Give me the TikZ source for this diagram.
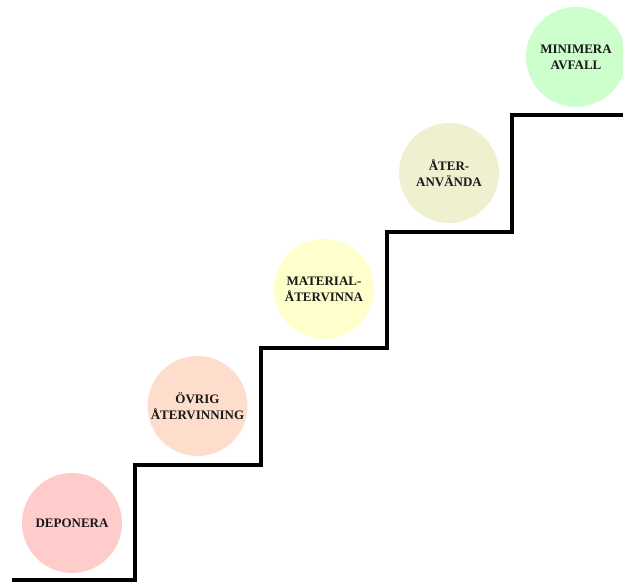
\documentclass[tikz,border=0pt]{standalone}
\usepackage{fontspec}
\setmainfont{Liberation Serif}
\definecolor{cDep}{HTML}{FFCCCC}
\definecolor{cOvr}{HTML}{FFDDCC}
\definecolor{cMat}{HTML}{FFFFCC}
\definecolor{cAter}{HTML}{EEF0D0}
\definecolor{cMin}{HTML}{CCFFCC}
\begin{document}
\begin{tikzpicture}[x=1pt,y=-1pt,
  stepcircle/.style={circle, minimum size=100pt, inner sep=0pt, draw=none,
    align=center, font=\fontsize{13}{16}\selectfont\bfseries, text=black!90},
  stairline/.style={line width=4pt, draw=black, line join=miter}]
\useasboundingbox (0,0) rectangle (623,581);
\node[stepcircle, fill=cDep] (dep) at (72,523) {DEPONERA};
\node[stepcircle, fill=cOvr] (ovr) at (197.5,406) {ÖVRIG\\ÅTERVINNING};
\node[stepcircle, fill=cMat] (mat) at (324,289) {MATERIAL-\\ÅTERVINNA};
\node[stepcircle, fill=cAter] (ater) at (449,173) {ÅTER-\\ANVÄNDA};
\node[stepcircle, fill=cMin] (min) at (576,57) {MINIMERA\\AVFALL};
\coordinate (s0) at (12,579.5);
\coordinate (s5) at (623,115.3);
\draw[stairline] (s0) -- (134.5,579.5) -- (134.5,464.5) -- (260.5,464.5)
  -- (260.5,348) -- (386.5,348) -- (386.5,232) -- (511.7,232)
  -- (511.7,115.3) -- (s5);
\end{tikzpicture}
\end{document}
